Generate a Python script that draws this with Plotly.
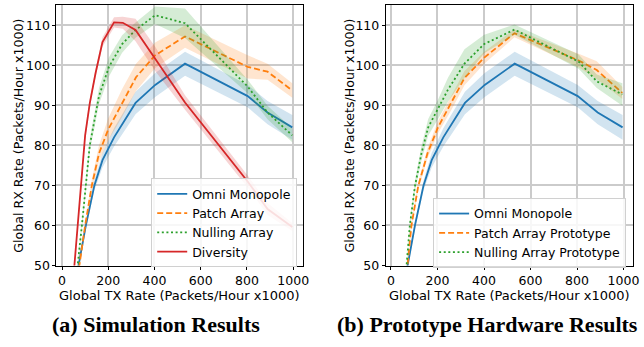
import plotly.graph_objects as go

# ---------------- data ----------------
# (a) Simulation Results
omni_x = [40, 103, 140, 175, 225, 318, 403, 532, 803, 889, 996]
omni_y = [40, 60, 70, 76.3, 82, 90.6, 95.1, 100.4, 92.3, 88.2, 84.5]
omni_err = [0.5, 0.8, 1.2, 1.8, 2.3, 2.8, 3.0, 3.0, 2.8, 2.9, 3.1]

patch_x = [40, 100, 129, 160, 200, 260, 320, 403, 532, 803, 889, 996]
patch_y = [36, 60, 70, 78, 84, 90.6, 97, 102.5, 107.2, 99.6, 98.4, 93.7]
patch_err = [0.5, 1.0, 1.5, 2.0, 2.8, 3.5, 3.4, 3.2, 2.8, 2.9, 2.0, 1.8]

null_x = [45, 86, 120, 160, 203, 260, 318, 403, 532, 803, 889, 996]
null_y = [38, 60, 80, 92.3, 99.6, 105.3, 108.8, 112.5, 110.5, 94.7, 88.2, 82.5]
null_err = [0.5, 1.0, 1.5, 2.0, 2.4, 2.2, 1.9, 2.2, 3.7, 1.7, 1.7, 1.7]

div_x = [40, 80, 100, 120, 145, 175, 225, 263, 318, 403, 532, 803, 889, 996]
div_y = [40.6, 70, 82.5, 90.5, 98, 105.8, 110.7, 110.6, 108.8, 101.6, 90.7, 71, 64.1, 59.6]
div_err = [0.5, 0.7, 0.8, 1.0, 1.0, 1.2, 1.3, 1.5, 2.8, 3.0, 1.8, 1.5, 1.5, 1.0]

# (b) Prototype Hardware Results
patchp_x = [45, 88, 117, 157, 202, 259, 316, 401, 531, 807, 885, 995]
patchp_y = [34.7, 60, 69.8, 78, 84.5, 90.6, 96.8, 101.9, 108, 101.2, 98.8, 93.1]
patchp_err = [0.5, 0.8, 1.0, 1.3, 1.5, 1.8, 1.8, 1.5, 1.0, 1.7, 2.2, 1.5]

nullp_x = [45, 81, 103, 131, 160, 202, 245, 316, 401, 531, 807, 885, 995]
nullp_y = [34.3, 60, 69.8, 78, 84.5, 89, 93.9, 100.4, 105.3, 108.9, 100.9, 96, 92.7]
nullp_err = [0.5, 1.0, 1.3, 1.8, 2.1, 2.4, 3.0, 3.6, 2.3, 1.3, 1.8, 1.7, 2.8]

x_ticks = [0, 200, 400, 600, 800, 1000]
y_ticks = [50, 60, 70, 80, 90, 100, 110]

x_title = "Global TX Rate (Packets/Hour x1000)"
y_title = "Global RX Rate (Packets/Hour x1000)"
cap_a = "(a) Simulation Results"
cap_b = "(b) Prototype Hardware Results"

BLUE, ORANGE, GREEN, RED = "#1f77b4", "#ff7f0e", "#2ca02c", "#d62728"
FILL = {BLUE: "rgba(31,119,180,0.2)", ORANGE: "rgba(255,127,14,0.2)",
        GREEN: "rgba(44,160,44,0.2)", RED: "rgba(214,39,40,0.2)"}

fig = go.Figure()


def add_series(x, y, err, color, dash, name, xa, ya, legend):
    lo = [v - e for v, e in zip(y, err)]
    hi = [v + e for v, e in zip(y, err)]
    fig.add_trace(go.Scatter(
        x=list(x) + list(x)[::-1], y=hi + lo[::-1], fill="toself",
        fillcolor=FILL[color], line=dict(width=0), mode="lines",
        showlegend=False, hoverinfo="skip", xaxis=xa, yaxis=ya))
    fig.add_trace(go.Scatter(
        x=x, y=y, mode="lines", name=name,
        line=dict(color=color, width=1.8, dash=dash),
        xaxis=xa, yaxis=ya, legend=legend))


DASH = "6px,3px"
DOT = "2px,2.6px"

add_series(omni_x, omni_y, omni_err, BLUE, "solid", "Omni Monopole", "x", "y", "legend")
add_series(patch_x, patch_y, patch_err, ORANGE, DASH, "Patch Array", "x", "y", "legend")
add_series(null_x, null_y, null_err, GREEN, DOT, "Nulling Array", "x", "y", "legend")
add_series(div_x, div_y, div_err, RED, "solid", "Diversity", "x", "y", "legend")

add_series(omni_x, omni_y, omni_err, BLUE, "solid", "Omni Monopole", "x2", "y2", "legend2")
add_series(patchp_x, patchp_y, patchp_err, ORANGE, DASH, "Patch Array Prototype", "x2", "y2", "legend2")
add_series(nullp_x, nullp_y, nullp_err, GREEN, DOT, "Nulling Array Prototype", "x2", "y2", "legend2")

W, H = 644, 347
FONT = "DejaVu Sans"

axis_common = dict(showline=True, linecolor="black", linewidth=1.2, mirror=True,
                   showgrid=True, gridcolor="#cbcbcb", gridwidth=1.5,
                   ticks="outside", ticklen=3, tickcolor="black",
                   tickfont=dict(family=FONT, size=12.5, color="black"),
                   zeroline=False, fixedrange=True)

xd1 = [57 / W, 306 / W]
xd2 = [389.5 / W, 639 / W]
yd = [1 - 271 / H, 1 - 5.3 / H]

fig.update_layout(
    width=W, height=H, margin=dict(l=0, r=0, t=0, b=0),
    paper_bgcolor="white", plot_bgcolor="white",
    font=dict(family=FONT, size=12, color="black"),
    xaxis=dict(domain=xd1, range=[-24, 1043], tickvals=x_ticks, anchor="y", **axis_common),
    yaxis=dict(domain=yd, range=[50, 115], tickvals=y_ticks, anchor="x", **axis_common),
    xaxis2=dict(domain=xd2, range=[-22, 1041], tickvals=x_ticks, anchor="y2", **axis_common),
    yaxis2=dict(domain=yd, range=[50, 115], tickvals=y_ticks, anchor="x2", **axis_common),
    legend=dict(x=300 / W, y=1 - 182 / H, xanchor="right", yanchor="top",
                bgcolor="rgba(255,255,255,0.85)", bordercolor="#d0d0d0", borderwidth=1,
                font=dict(family=FONT, size=12.5), tracegroupgap=0, itemwidth=30),
    legend2=dict(x=632 / W, y=1 - 202 / H, xanchor="right", yanchor="top",
                 bgcolor="rgba(255,255,255,0.85)", bordercolor="#d0d0d0", borderwidth=1,
                 font=dict(family=FONT, size=12.5), tracegroupgap=0, itemwidth=30),
    showlegend=True,
)

ann = []
for cx in [(xd1[0] + xd1[1]) / 2, (xd2[0] + xd2[1]) / 2]:
    ann.append(dict(x=cx, y=1 - 301.5 / H, xref="paper", yref="paper", text=x_title,
                    showarrow=False, xanchor="center", yanchor="middle", borderpad=0,
                    font=dict(family=FONT, size=13)))
for tx in [18.5 / W, 352.5 / W]:
    ann.append(dict(x=tx, y=(yd[0] + yd[1]) / 2, xref="paper", yref="paper", text=y_title,
                    textangle=-90, showarrow=False, xanchor="center", yanchor="middle",
                    font=dict(family=FONT, size=12.6)))
ann.append(dict(x=157 / W, y=1 - 331 / H, xref="paper", yref="paper", text="<b>" + cap_a + "</b>",
                showarrow=False, xanchor="center", yanchor="middle",
                font=dict(family="Liberation Serif", size=22)))
ann.append(dict(x=492 / W, y=1 - 331 / H, xref="paper", yref="paper", text="<b>" + cap_b + "</b>",
                showarrow=False, xanchor="center", yanchor="middle",
                font=dict(family="Liberation Serif", size=22)))
fig.update_layout(annotations=ann)

fig.write_html("out.html")
